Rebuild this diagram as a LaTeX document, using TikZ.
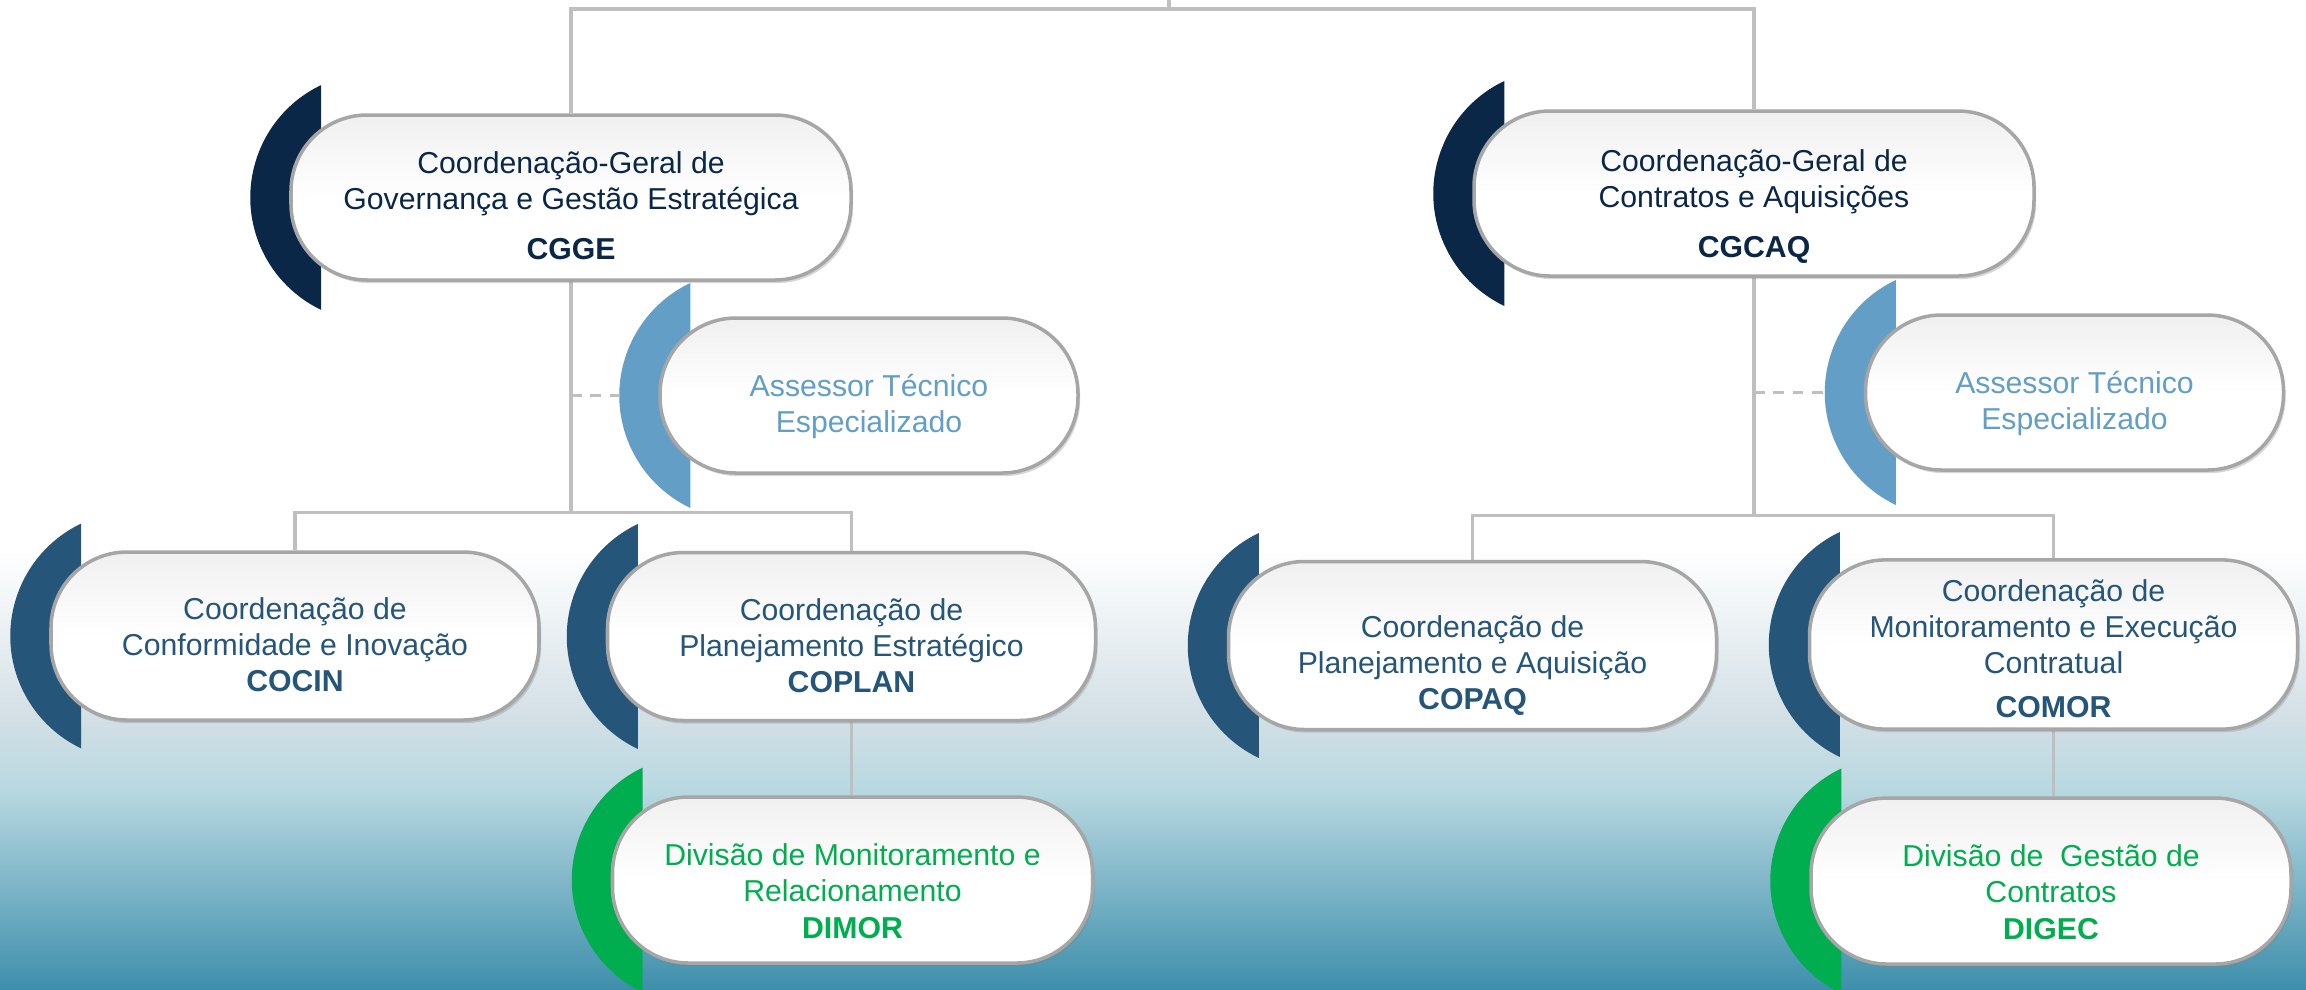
\documentclass[tikz,border=0pt]{standalone}
\usepackage{fontspec}
\setmainfont{Liberation Sans}
\usepackage{tikz}
\usetikzlibrary{backgrounds,calc,shadows}
\definecolor{cgNavy}{HTML}{0B2747}
\definecolor{cgSteel}{HTML}{255579}
\definecolor{cgSky}{HTML}{629EC5}
\definecolor{cgGreen}{HTML}{00AE4F}
\definecolor{cgLine}{HTML}{BFBFBF}
\definecolor{bgMist}{HTML}{D2DFE5}
\definecolor{bgAqua}{HTML}{B8D8E0}
\definecolor{bgTeal}{HTML}{3E8FAC}
\pgfdeclarelayer{back}
\pgfsetlayers{back,background,main}
\tikzset{
  pill/.style={draw=black!35, line width=1pt, rounded corners=0.76cm,
    top color=black!6, bottom color=white, middle color=white,
    align=center, font=\fontsize{8.6}{10.3}\selectfont,
    drop shadow={opacity=0.3, shadow xshift=0.6pt, shadow yshift=-0.9pt}},
  general/.style={pill, minimum width=5.6cm, minimum height=1.65cm, text=cgNavy},
  advisor/.style={pill, minimum width=4.18cm, minimum height=1.55cm, text=cgSky},
  coord/.style={pill, minimum width=4.88cm, minimum height=1.68cm, text=cgSteel},
  division/.style={pill, minimum width=4.8cm, minimum height=1.66cm, text=cgGreen},
  conn/.style={draw=cgLine, line width=0.9pt},
}
\newcommand{\drawmoon}[2]{\fill[#2] ($(#1.west)+(0.32,1.125)$) arc[start angle=115.5, end angle=244.5, radius=1.246] -- cycle;}
\newcommand{\lowered}[1]{\rule{0pt}{#1}}

\begin{document}
\begin{tikzpicture}
\useasboundingbox (0,0) rectangle (23.06,-9.89);
\begin{pgfonlayer}{back}
\fill[white] (0,0) rectangle (23.06,-9.89);
\shade[top color=white, bottom color=bgMist] (0,-5.5) rectangle (23.06,-7.2);
\shade[top color=bgMist, bottom color=bgAqua] (0,-7.2) rectangle (23.06,-7.9);
\shade[top color=bgAqua, bottom color=bgTeal] (0,-7.9) rectangle (23.06,-9.89);
\end{pgfonlayer}

\node[general] (cgge) at (5.71,-1.975) {\lowered{11pt}Coordenação-Geral de\\Governança e Gestão Estratégica\\[4pt]\textbf{CGGE}};
\node[general] (cgcaq) at (17.54,-1.935) {\lowered{13.5pt}Coordenação-Geral de\\Contratos e Aquisições\\[4pt]\textbf{CGCAQ}};
\node[advisor] (asseL) at (8.69,-3.955) {\lowered{12.5pt}Assessor Técnico\\Especializado};
\node[advisor] (asseR) at (20.745,-3.925) {\lowered{12.5pt}Assessor Técnico\\Especializado};
\node[coord] (cocin) at (2.95,-6.36) {\lowered{11pt}Coordenação de\\Conformidade e Inovação\\\textbf{COCIN}};
\node[coord] (coplan) at (8.515,-6.365) {\lowered{11.5pt}Coordenação de\\Planejamento Estratégico\\\textbf{COPLAN}};
\node[division] (dimor) at (8.525,-8.80) {\lowered{12.5pt}Divisão de Monitoramento e\\Relacionamento\\\textbf{DIMOR}};
\node[coord] (copaq) at (14.725,-6.455) {\lowered{17.5pt}Coordenação de\\Planejamento e Aquisição\\\textbf{COPAQ}};
\node[coord] (comor) at (20.535,-6.445) {\lowered{8.5pt}Coordenação de\\Monitoramento e Execução\\Contratual\\[2pt]\textbf{COMOR}};
\node[division] (digec) at (20.51,-8.81) {\lowered{12.5pt}Divisão de\ \ Gestão de\\Contratos\\\textbf{DIGEC}};

\coordinate (rootTop) at (11.69,0);
\coordinate (root) at (11.69,-0.09);

\begin{scope}[on background layer]
\drawmoon{cgge}{cgNavy}
\drawmoon{cgcaq}{cgNavy}
\drawmoon{asseL}{cgSky}
\drawmoon{asseR}{cgSky}
\drawmoon{cocin}{cgSteel}
\drawmoon{coplan}{cgSteel}
\drawmoon{copaq}{cgSteel}
\drawmoon{comor}{cgSteel}
\drawmoon{dimor}{cgGreen}
\drawmoon{digec}{cgGreen}

\draw[conn] (rootTop) -- (root);
\draw[conn] (cgge.north) |- (root) -| (cgcaq.north);
\draw[conn] (cgge.south) -- ++(0,-2.31) coordinate (jL);
\draw[conn] (cocin.north) |- (jL) -| (coplan.north);
\draw[conn] (cgcaq.south) -- ++(0,-2.38) coordinate (jR);
\draw[conn] (copaq.north) |- (jR) -| (comor.north);
\draw[conn, dash pattern=on 3pt off 2.5pt] (cgge.south |- asseL) -- ($(asseL.west)+(-0.39,0)$);
\draw[conn, dash pattern=on 3pt off 2.5pt] (cgcaq.south |- asseR) -- ($(asseR.west)+(-0.39,0)$);
\draw[conn, line width=0.6pt] (coplan.south) -- (coplan.south |- dimor.north);
\draw[conn, line width=0.6pt] (comor.south) -- (comor.south |- digec.north);
\end{scope}
\end{tikzpicture}
\end{document}
